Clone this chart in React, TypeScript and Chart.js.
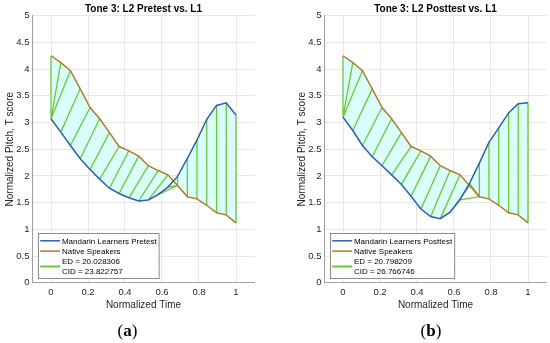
import React, { useEffect, useRef } from "react";
import { Chart, registerables } from "chart.js";

Chart.register(...registerables);

// ---------- data ----------
const TIME = [0, 0.053, 0.105, 0.158, 0.211, 0.263, 0.316, 0.368, 0.421, 0.474, 0.526, 0.579, 0.632, 0.684, 0.737, 0.789, 0.842, 0.895, 0.947, 1.0];
const NATIVE = [4.25, 4.12, 3.97, 3.63, 3.28, 3.07, 2.81, 2.55, 2.47, 2.37, 2.19, 2.1, 2.02, 1.82, 1.61, 1.57, 1.45, 1.31, 1.27, 1.12];
const PRETEST = [3.07, 2.82, 2.57, 2.32, 2.12, 1.94, 1.77, 1.67, 1.59, 1.53, 1.55, 1.65, 1.79, 1.99, 2.33, 2.67, 3.06, 3.32, 3.37, 3.14];
const POSTTEST = [3.1, 2.85, 2.57, 2.36, 2.19, 2.02, 1.84, 1.62, 1.38, 1.24, 1.2, 1.32, 1.55, 1.86, 2.24, 2.63, 2.9, 3.18, 3.35, 3.37];

// warping paths (index into learner series / index into native series)
const PRE_PATH_L2 = [0, 0, 0, 1, 2, 3, 4, 5, 6, 7, 8, 9, 10, 11, 12, 13, 14, 15, 16, 17, 18, 19];
const PRE_PATH_L1 = [0, 1, 2, 3, 4, 5, 6, 7, 8, 9, 10, 11, 12, 13, 13, 13, 14, 15, 16, 17, 18, 19];
const POST_PATH_L2 = [0, 0, 0, 1, 2, 3, 4, 5, 6, 7, 8, 9, 10, 11, 12, 13, 14, 15, 16, 17, 18, 19];
const POST_PATH_L1 = [0, 1, 2, 3, 4, 5, 6, 7, 8, 9, 10, 11, 12, 13, 14, 14, 14, 15, 16, 17, 18, 19];

const X_TICKS = [0, 0.2, 0.4, 0.6, 0.8, 1];
const X_TICK_LABELS = ["0", "0.2", "0.4", "0.6", "0.8", "1"];
const Y_TICKS = [0, 0.5, 1, 1.5, 2, 2.5, 3, 3.5, 4, 4.5, 5];
const Y_TICK_LABELS = ["0", "0.5", "1", "1.5", "2", "2.5", "3", "3.5", "4", "4.5", "5"];

const TITLE_PRE = "Tone 3: L2 Pretest vs. L1";
const TITLE_POST = "Tone 3: L2 Posttest vs. L1";
const LEGEND_PRE = ["Mandarin Learners Pretest", "Native Speakers", "ED = 20.028306", "CID = 23.822757"];
const LEGEND_POST = ["Mandarin Learners Posttest", "Native Speakers", "ED = 20.798209", "CID = 26.766746"];

// ---------- styles ----------
const FONT = '"Liberation Sans", Arial, Helvetica, sans-serif';
const BLUE = "#2f5db5";
const BROWN = "#b47a2c";
const GREEN = "#68c935";
const FILL = "#dafffb";
const TEXT = "#262626";
const GRID = "#e6e6e6";
const AXIS = "#a0a0a0";

Chart.defaults.font.family = FONT;

function buildConfig(l2: number[], pathL2: number[], pathL1: number[], title: string, legend: string[]): any {
  const learner = TIME.map((t, i) => ({ x: t, y: l2[i] }));
  const native = TIME.map((t, i) => ({ x: t, y: NATIVE[i] }));
  const links: any[] = [];
  pathL2.forEach((bi, k) => {
    const ni = pathL1[k];
    links.push({ x: TIME[bi], y: l2[bi] });
    links.push({ x: TIME[ni], y: NATIVE[ni] });
    links.push({ x: TIME[ni], y: null });
  });

  const titlePlugin = {
    id: "panelTitle",
    afterDraw(chart: any) {
      const { ctx, chartArea } = chart;
      ctx.save();
      ctx.font = `bold 10px ${FONT}`;
      ctx.fillStyle = "#000";
      ctx.textAlign = "center";
      ctx.textBaseline = "alphabetic";
      ctx.fillText(title, (chartArea.left + chartArea.right) / 2, 11.7);
      ctx.restore();
    },
  };

  const legendPlugin = {
    id: "panelLegend",
    afterDraw(chart: any) {
      const { ctx, chartArea } = chart;
      ctx.save();
      ctx.font = `8px ${FONT}`;
      const maxW = Math.max(...legend.map((s) => ctx.measureText(s).width));
      const bx = Math.round(chartArea.left + 5.8) + 0.5;
      const by = Math.round(chartArea.top + 217) + 0.5;
      const bw = 23.4 + maxW + 2.5;
      const bh = 45;
      ctx.fillStyle = "#fff";
      ctx.fillRect(bx, by, bw, bh);
      ctx.strokeStyle = "#8c8c8c";
      ctx.lineWidth = 1;
      ctx.strokeRect(bx, by, bw, bh);
      const ds = chart.data.datasets;
      const rows = [
        { y: by + 7.3, color: ds[0].borderColor, w: ds[0].borderWidth },
        { y: by + 17.6, color: ds[1].borderColor, w: ds[1].borderWidth },
        { y: by + 33, color: ds[2].borderColor, w: 2 },
      ];
      rows.forEach((r) => {
        ctx.beginPath();
        ctx.strokeStyle = r.color;
        ctx.lineWidth = r.w;
        ctx.moveTo(bx + 1.7, r.y);
        ctx.lineTo(bx + 21.7, r.y);
        ctx.stroke();
      });
      ctx.fillStyle = "#000";
      ctx.textAlign = "left";
      ctx.textBaseline = "alphabetic";
      const tx = bx + 23.4;
      ctx.fillText(legend[0], tx, by + 7.3 + 2.9);
      ctx.fillText(legend[1], tx, by + 17.6 + 2.9);
      ctx.fillText(legend[2], tx, by + 28 + 2.9);
      ctx.fillText(legend[3], tx, by + 38 + 2.9);
      ctx.restore();
    },
  };

  return {
    type: "line",
    data: {
      datasets: [
        {
          label: legend[0],
          data: learner,
          borderColor: BLUE,
          borderWidth: 1.5,
          backgroundColor: FILL,
          fill: { target: 1 },
          pointRadius: 0,
          tension: 0,
        },
        {
          label: legend[1],
          data: native,
          borderColor: BROWN,
          borderWidth: 1.5,
          fill: false,
          pointRadius: 0,
          tension: 0,
        },
        {
          label: legend[2],
          data: links,
          borderColor: GREEN,
          borderWidth: 1.3,
          fill: false,
          pointRadius: 0,
          spanGaps: false,
          tension: 0,
        },
      ],
    },
    options: {
      animation: false,
      responsive: false,
      maintainAspectRatio: false,
      layout: { padding: { top: 15.7, right: 3.5, left: 0, bottom: 0 } },
      plugins: {
        legend: { display: false },
        tooltip: { enabled: false },
        title: { display: false },
        filler: { drawTime: "beforeDatasetsDraw", propagate: false },
      },
      scales: {
        x: {
          type: "linear",
          min: -0.1,
          max: 1.1,
          afterBuildTicks: (s: any) => {
            s.ticks = X_TICKS.map((v) => ({ value: v }));
          },
          afterFit: (s: any) => {
            s.height = 60.3;
          },
          ticks: {
            autoSkip: false,
            maxRotation: 0,
            padding: 4,
            color: TEXT,
            font: { size: 9.5, family: FONT },
            callback: (v: number) => X_TICK_LABELS[X_TICKS.indexOf(v)],
          },
          grid: { color: GRID, drawTicks: false },
          border: { color: AXIS },
          title: {
            display: true,
            text: "Normalized Time",
            color: TEXT,
            font: { size: 10, family: FONT },
            padding: { top: 0, bottom: 31.5 },
          },
        },
        y: {
          type: "linear",
          min: 0,
          max: 5,
          afterBuildTicks: (s: any) => {
            s.ticks = Y_TICKS.map((v) => ({ value: v }));
          },
          afterFit: (s: any) => {
            s.width = 32.5;
          },
          ticks: {
            autoSkip: false,
            padding: 3,
            color: TEXT,
            font: { size: 9.5, family: FONT },
            callback: (v: number) => Y_TICK_LABELS[Y_TICKS.indexOf(v)],
          },
          grid: { color: GRID, drawTicks: false },
          border: { color: AXIS },
          title: {
            display: true,
            text: "Normalized Pitch, T score",
            color: TEXT,
            font: { size: 10, family: FONT },
            padding: { top: 4, bottom: 0 },
          },
        },
      },
    },
    plugins: [titlePlugin, legendPlugin],
  };
}

function Panel(props: { l2: number[]; pathL2: number[]; pathL1: number[]; title: string; legend: string[]; left: number }) {
  const ref = useRef<HTMLCanvasElement>(null);
  useEffect(() => {
    if (!ref.current) return;
    const chart = new Chart(ref.current, buildConfig(props.l2, props.pathL2, props.pathL1, props.title, props.legend));
    return () => chart.destroy();
  }, []);
  return (
    <canvas
      ref={ref}
      width={258}
      height={343}
      style={{ position: "absolute", left: props.left, top: 0, width: 258, height: 343 }}
    />
  );
}

export default function App() {
  const labelStyle: React.CSSProperties = {
    position: "absolute",
    top: 321,
    width: 40,
    textAlign: "center",
    font: '17px "Liberation Serif", "Times New Roman", serif',
    lineHeight: "19px",
    color: "#000",
  };
  return (
    <div style={{ position: "absolute", left: 0, top: 0, width: 550, height: 343, overflow: "hidden", background: "#fff" }}>
      <Panel l2={PRETEST} pathL2={PRE_PATH_L2} pathL1={PRE_PATH_L1} title={TITLE_PRE} legend={LEGEND_PRE} left={0} />
      <Panel l2={POSTTEST} pathL2={POST_PATH_L2} pathL1={POST_PATH_L1} title={TITLE_POST} legend={LEGEND_POST} left={292} />
      <div style={{ ...labelStyle, left: 107.5 }}>
        (<b>a</b>)
      </div>
      <div style={{ ...labelStyle, left: 411 }}>
        (<b>b</b>)
      </div>
    </div>
  );
}
